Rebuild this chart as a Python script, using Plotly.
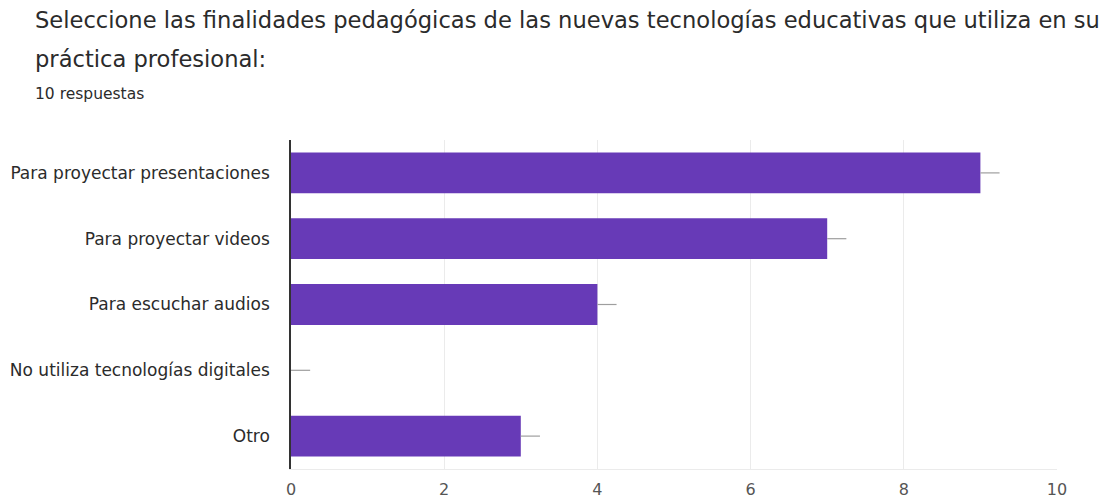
import plotly.graph_objects as go

categories = ["Para proyectar presentaciones", "Para proyectar videos", "Para escuchar audios",
              "No utiliza tecnologías digitales", "Otro"]
values = [9, 7, 4, 0, 3]
x_ticks = [0, 2, 4, 6, 8, 10]
title_line1 = "Seleccione las finalidades pedagógicas de las nuevas tecnologías educativas que utiliza en su"
title_line2 = "práctica profesional:"
subtitle = "10 respuestas"
label_stub = [0.25] * len(values)

fig = go.Figure()
fig.add_trace(go.Bar(
    y=categories, x=values, orientation="h",
    marker=dict(color="#673ab7", line=dict(width=0)),
    error_x=dict(type="data", symmetric=False, array=label_stub, arrayminus=[0] * len(values),
                 color="#9e9e9e", thickness=1.2, width=0),
    hoverinfo="x+y",
))

W, H = 1116, 500
L, R, T, B = 291, 59, 140, 31
pw = W - L - R
ph = H - T - B

def px_to_paper_x(px):
    return (px - L) / pw

def px_to_paper_y(py):
    return (H - B - py) / ph

fig.update_layout(
    width=W, height=H,
    margin=dict(l=L, r=R, t=T, b=B, autoexpand=False),
    paper_bgcolor="white", plot_bgcolor="white",
    bargap=0.38,
    showlegend=False,
    font=dict(family="DejaVu Sans, sans-serif", color="#222222"),
    annotations=[
        dict(text=title_line1, xref="paper", yref="paper", x=px_to_paper_x(33), y=px_to_paper_y(20),
             xanchor="left", yanchor="middle", showarrow=False,
             font=dict(family="DejaVu Sans, sans-serif", size=22.6, color="#2b2b2b")),
        dict(text=title_line2, xref="paper", yref="paper", x=px_to_paper_x(33), y=px_to_paper_y(59),
             xanchor="left", yanchor="middle", showarrow=False,
             font=dict(family="DejaVu Sans, sans-serif", size=22.6, color="#2b2b2b")),
        dict(text=subtitle, xref="paper", yref="paper", x=px_to_paper_x(33), y=px_to_paper_y(94),
             xanchor="left", yanchor="middle", showarrow=False,
             font=dict(family="DejaVu Sans, sans-serif", size=15.5, color="#2b2b2b")),
    ],
)
fig.update_xaxes(
    range=[0, 10], tickvals=x_ticks, ticktext=[str(v) for v in x_ticks],
    showgrid=True, gridcolor="#ebebeb", gridwidth=1,
    zeroline=False, showline=True, linecolor="#ebebeb", linewidth=1,
    ticks="", ticklabelstandoff=6, automargin=False,
    tickfont=dict(family="DejaVu Sans, sans-serif", size=16, color="#555555"),
    fixedrange=True,
)
fig.update_yaxes(
    categoryorder="array", categoryarray=categories[::-1],
    autorange=False, range=[-0.5, len(categories) - 0.5],
    showgrid=False, zeroline=False, showline=True, linecolor="#333333", linewidth=1.5,
    ticks="", ticklabelstandoff=16, automargin=False,
    tickfont=dict(family="DejaVu Sans, sans-serif", size=17, color="#2b2b2b"),
    fixedrange=True,
)

fig.write_html("out.html")
